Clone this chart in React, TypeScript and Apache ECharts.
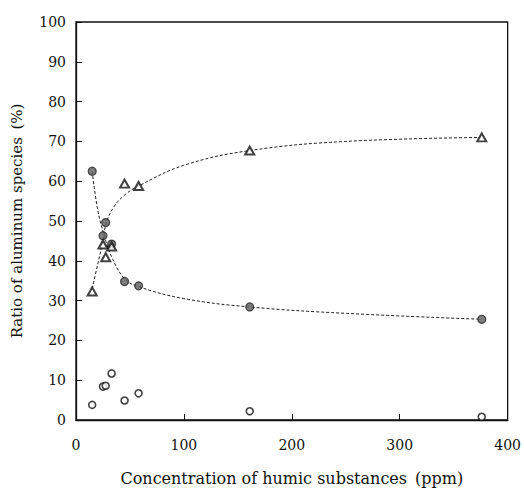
import React, { useEffect, useRef } from "react";
import * as echarts from "echarts";

// Concentration of humic substances (ppm) for each sample
const concentrations = [15, 25, 27.5, 33, 45, 58, 161, 376];
// Ratio of aluminum species (%)
const filledCircleValues = [62.5, 46.3, 49.6, 44.2, 34.8, 33.7, 28.4, 25.3];
const triangleValues = [32.3, 44.1, 40.9, 43.6, 59.4, 58.8, 67.7, 71.0];
const openCircleValues = [3.8, 8.4, 8.6, 11.7, 4.9, 6.7, 2.2, 0.8];

// fitted (dashed) curves
const circleFitX = [15, 20, 26, 33, 45, 58, 100, 161, 250, 376];
const circleFitY = [62.5, 53, 46.5, 41, 35.5, 33.5, 30.5, 28.4, 26.8, 25.3];
const triangleFitX = [15, 20, 25, 28, 35, 45, 58, 100, 161, 250, 376];
const triangleFitY = [33, 39, 45, 49.5, 53.5, 56.5, 58.8, 64, 67.7, 70, 71];

const xTicks = [0, 100, 200, 300, 400];
const yTicks = [0, 10, 20, 30, 40, 50, 60, 70, 80, 90, 100];

const FONT = "DejaVu Serif";

export default function App() {
  const ref = useRef<HTMLDivElement>(null);
  useEffect(() => {
    if (!ref.current) return;
    const chart = echarts.init(ref.current, undefined, { renderer: "svg" });
    const pair = (xs: number[], ys: number[]) => xs.map((x, i) => [x, ys[i]]);
    chart.setOption({
      animation: false,
      backgroundColor: "#ffffff",
      grid: {
        left: 76,
        right: 14,
        top: 22,
        bottom: 68,
        show: true,
        borderColor: "#111",
        borderWidth: 1.3,
      },
      xAxis: {
        type: "value",
        min: xTicks[0],
        max: xTicks[xTicks.length - 1],
        interval: 100,
        name: "Concentration of humic substances\u2002(ppm)",
        nameLocation: "middle",
        nameGap: 50,
        nameTextStyle: { fontFamily: FONT, fontSize: 16, color: "#111" },
        axisLine: { show: true, lineStyle: { color: "#111", width: 1.3 } },
        axisTick: { show: true, inside: true, length: 6, lineStyle: { color: "#111" } },
        axisLabel: { fontFamily: FONT, fontSize: 14, color: "#111", margin: 18 },
        splitLine: { show: false },
      },
      yAxis: {
        type: "value",
        min: yTicks[0],
        max: yTicks[yTicks.length - 1],
        interval: 10,
        name: "Ratio of aluminum species\u2002(%)",
        nameLocation: "middle",
        nameGap: 52,
        nameTextStyle: { fontFamily: FONT, fontSize: 15, color: "#111" },
        axisLine: { show: true, lineStyle: { color: "#111", width: 1.3 } },
        axisTick: { show: true, inside: true, length: 6, lineStyle: { color: "#111" } },
        axisLabel: { fontFamily: FONT, fontSize: 14, color: "#111", margin: 10 },
        splitLine: { show: false },
      },
      series: [
        {
          type: "line",
          data: pair(circleFitX, circleFitY),
          smooth: 0.4,
          showSymbol: false,
          symbol: "none",
          lineStyle: { color: "#222", width: 1, type: [3, 2] },
          z: 1,
        },
        {
          type: "line",
          data: pair(triangleFitX, triangleFitY),
          smooth: 0.4,
          showSymbol: false,
          symbol: "none",
          lineStyle: { color: "#222", width: 1, type: [3, 2] },
          z: 1,
        },
        {
          type: "scatter",
          data: pair(concentrations, openCircleValues),
          symbol: "circle",
          symbolSize: 7,
          itemStyle: { color: "#fff", borderColor: "#111", borderWidth: 1.6 },
          z: 3,
        },
        {
          type: "scatter",
          data: pair(concentrations, filledCircleValues),
          symbol: "circle",
          symbolSize: 8,
          itemStyle: { color: "#5e5e5e", borderColor: "#222", borderWidth: 1.2 },
          z: 3,
        },
        {
          type: "scatter",
          data: pair(concentrations, triangleValues),
          symbol: "triangle",
          symbolSize: [9, 8],
          itemStyle: { color: "#fff", borderColor: "#111", borderWidth: 2 },
          z: 4,
        },
      ],
    });
    return () => chart.dispose();
  }, []);
  return (
    <div
      ref={ref}
      style={{ position: "fixed", left: 0, top: 0, width: 524, height: 491, background: "#fff" }}
    />
  );
}
